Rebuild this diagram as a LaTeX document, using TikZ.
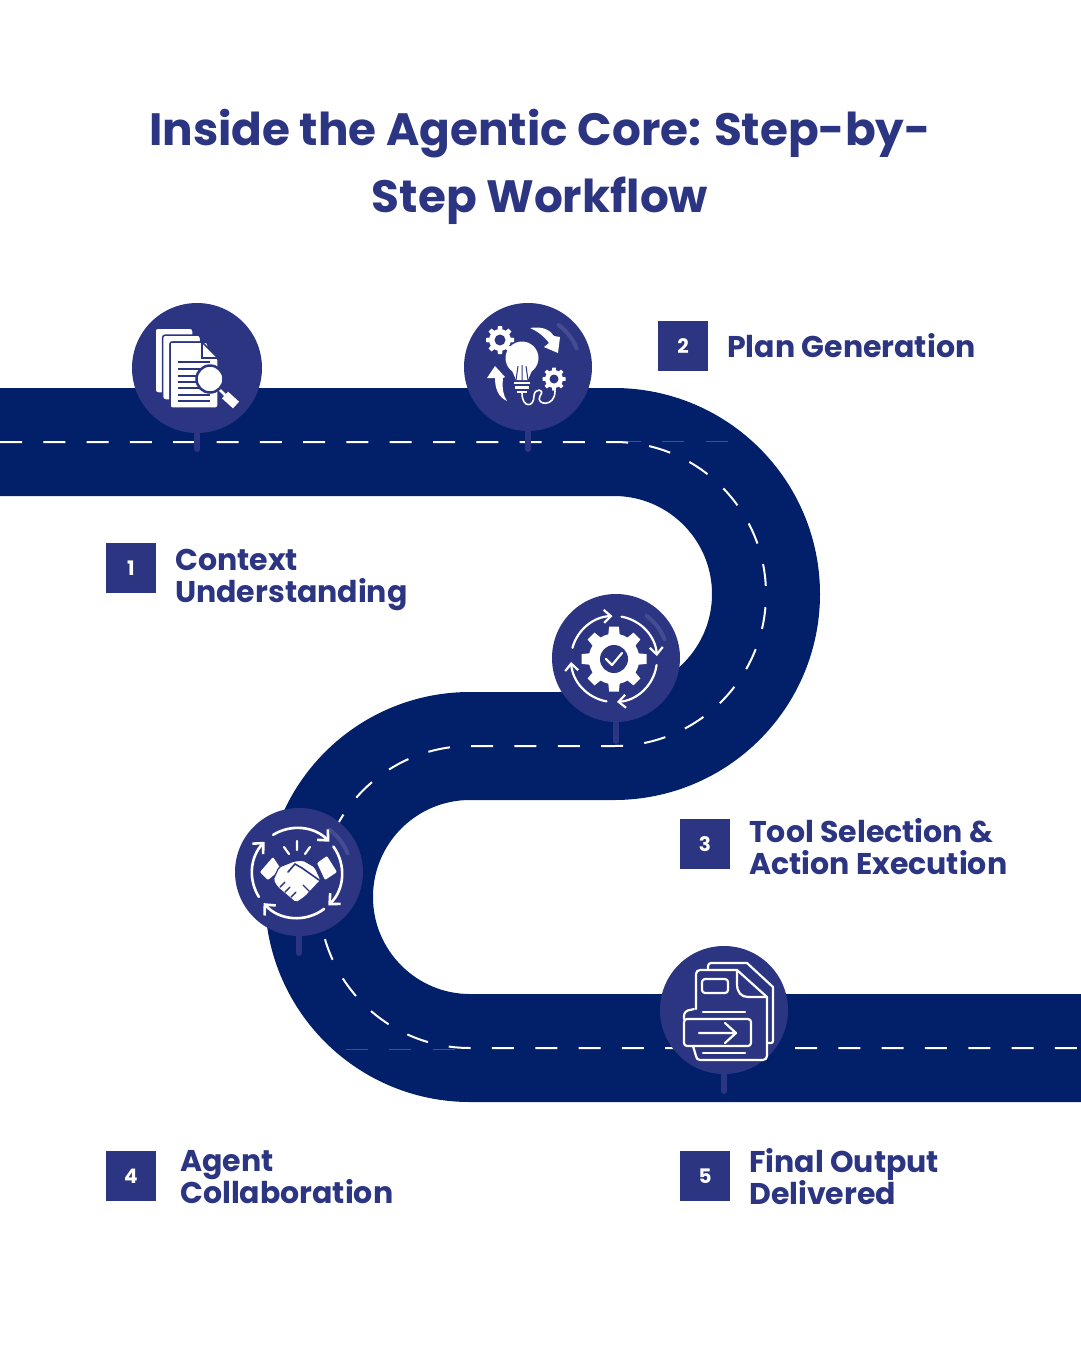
\documentclass[tikz,border=0pt]{standalone}
\usepackage{fontspec}
\setmainfont{Poppins}
\usetikzlibrary{arrows.meta, positioning, calc}
\definecolor{roadblue}{HTML}{02206A}
\definecolor{pinblue}{HTML}{2C3582}
\definecolor{glintblue}{HTML}{4A5296}
\definecolor{faintblue}{HTML}{3A5096}
\setlength{\lineskiplimit}{-100pt}
\setlength{\normallineskiplimit}{-100pt}

% gear: centre x, centre y, radius, teeth, hole radius
\newcommand{\gearicon}[5]{
  \fill[white] (#1,#2) circle[radius=#3*0.78pt];
  \foreach \a in {1,...,#4}
    \fill[white, rotate around={\a*360/#4:(#1,#2)}] ($(#1,#2)+(-#3*0.2,#3*0.5)$) -- ($(#1,#2)+(-#3*0.15,#3)$) -- ($(#1,#2)+(#3*0.15,#3)$) -- ($(#1,#2)+(#3*0.2,#3*0.5)$) -- cycle;
  \fill[pinblue] (#1,#2) circle[radius=#5 pt];
}
% glint on a pin: centre x, centre y
\newcommand{\pinglint}[2]{
  \draw[glintblue, line width=4pt, line cap=round, opacity=0.8] ($(#1,#2)+(54:52)$) arc[start angle=54, end angle=21, radius=52pt];
}

\begin{document}
\begin{tikzpicture}[x=1pt, y=1pt,
    road/.style={line width=108pt, roadblue},
    lanemark/.style={line width=2pt, white, dash pattern=on 22pt off 21.3pt},
    faintmark/.style={line width=0.7pt, faintblue, dash pattern=on 22pt off 21.3pt},
    pinhead/.style={circle, fill=pinblue, minimum size=128pt, inner sep=0pt},
    pinstem/.style={line width=6pt, pinblue, line cap=round},
    badge/.style={fill=pinblue, text=white, minimum size=50pt, inner sep=0pt, font=\fontsize{20}{20}\selectfont\bfseries},
    stepname/.style={text=pinblue, anchor=west, align=left, inner sep=0pt, font=\fontsize{30}{32}\selectfont\bfseries},
    iconline/.style={white, line width=2.2pt, line cap=round, line join=round},
    ringarrow/.style={iconline, -{Straight Barb[length=7pt, width=13pt, line width=2.2pt]}},
    shakearrow/.style={iconline, line width=2.6pt, -{Straight Barb[length=8pt, width=15pt, line width=2.6pt]}},
]
  \useasboundingbox (0,0) rectangle (1080,-1350);

  \node[text=pinblue, align=center, font=\fontsize{45.3}{67}\selectfont\bfseries] (title) at (540,-167) {Inside the Agentic Core: Step-by-\\Step Workflow};

  % road and lane marks
  \def\roadpath{(0,-442) -- (614,-442) arc[start angle=90, end angle=-90, radius=152pt] -- (470,-746) arc[start angle=90, end angle=270, radius=151pt] -- (1085,-1048)}
  \draw[road] \roadpath;
  \draw[faintmark] (619,-441.5) -- (728,-441.5);
  \draw[faintmark] (346,-1049) -- (460,-1049);
  \draw[lanemark] \roadpath;

  % pins
  \node[pinhead, minimum size=130pt] (pinone) at (197,-368) {};
  \node[pinhead] (pintwo) at (528,-367) {};
  \node[pinhead] (pinthree) at (616,-658) {};
  \node[pinhead] (pinfour) at (299,-872) {};
  \node[pinhead] (pinfive) at (724,-1010) {};
  \coordinate (endone) at (197,-449);
  \coordinate (endtwo) at (528,-449);
  \coordinate (endthree) at (616,-741);
  \coordinate (endfour) at (299,-953);
  \coordinate (endfive) at (724,-1091);
  \draw[pinstem] (pinone.south) -- (endone);
  \draw[pinstem] (pintwo.south) -- (endtwo);
  \draw[pinstem] (pinthree.south) -- (endthree);
  \draw[pinstem] (pinfour.south) -- (endfour);
  \draw[pinstem] (pinfive.south) -- (endfive);
  \pinglint{528}{-367}
  \pinglint{616}{-658}
  \pinglint{299}{-872}

  % documents and magnifier
  \foreach \px in {0,7.5,15}
    \fill[white, draw=pinblue, line width=1.5pt, rounded corners=3pt] (155+\px,-328-\px/1.07) rectangle ++(38,-65);
  \fill[white, draw=pinblue, line width=1.5pt, rounded corners=2pt] (170,-342) -- (202,-342) -- (218,-358) -- (218,-408) -- (170,-408) -- cycle;
  \draw[pinblue, line width=1.2pt] (202,-342) -- (202,-358) -- (218,-358);
  \foreach \ly in {362,369,376,382,388,395,401}
    \draw[pinblue, line width=1.6pt] (178,-\ly) -- (210,-\ly);
  \draw[white, line width=9pt] (225,-395) -- (236,-405);
  \draw[white, line width=2.5pt] (218,-388) -- (226,-396);
  \fill[white, draw=pinblue, line width=2.5pt] (210,-379) circle[radius=13.5pt];

  % bulb with gears and arrows
  \gearicon{500}{-340}{14}{8}{5.5}
  \gearicon{554}{-379}{11.5}{8}{4.5}
  \fill[white] (522,-358) circle[radius=16.5pt];
  \fill[white] (511,-368) -- (533,-368) -- (528,-380) -- (516,-380) -- cycle;
  \draw[pinblue, line width=1pt] (516,-380) -- (518,-366) (522,-380) -- (522,-365) (528,-380) -- (526,-366);
  \draw[white, line width=2.4pt] (514,-383) -- (530,-383) (515,-387.5) -- (529,-387.5) (517,-392) -- (527,-392);
  \draw[iconline, line width=1.6pt] (522,-393) .. controls (522,-408) and (534,-408) .. (534,-396) .. controls (534,-388) and (546,-388) .. (540,-396) .. controls (535,-405) and (555,-408) .. (555,-391);
  \fill[white] (530,-328) .. controls (543,-326) and (550,-330) .. (554,-336) -- (560,-337) -- (558,-353) -- (544,-347) -- (549,-343) .. controls (544,-336) and (537,-331) .. (530,-328) -- cycle;
  \fill[white] (507,-401) .. controls (498,-397) and (495,-388) .. (495,-378) -- (487,-378) -- (495,-366) -- (505,-377) -- (503,-378) .. controls (502,-388) and (503,-395) .. (507,-401) -- cycle;

  % gear with ring of arrows
  \gearicon{614}{-659}{32.5}{8}{14}
  \draw[iconline] (606,-659) -- (612,-665) -- (622,-653);
  \draw[ringarrow] ($(614,-659)+(165:43pt)$) arc[start angle=165, end angle=92, radius=43pt];
  \draw[ringarrow] ($(614,-659)+(80:43pt)$) arc[start angle=80, end angle=4, radius=43pt];
  \draw[ringarrow] ($(614,-659)+(-8:43pt)$) arc[start angle=-8, end angle=-86, radius=43pt];
  \draw[ringarrow] ($(614,-659)+(-100:43pt)$) arc[start angle=-100, end angle=-176, radius=43pt];

  % handshake with ring of arrows
  \draw[shakearrow] ($(297,-873)+(122:45pt)$) arc[start angle=122, end angle=44, radius=45pt];
  \draw[shakearrow] ($(297,-873)+(36:45pt)$) arc[start angle=36, end angle=-46, radius=45pt];
  \draw[shakearrow] ($(297,-873)+(-53:45pt)$) arc[start angle=-53, end angle=-138, radius=45pt];
  \draw[shakearrow] ($(297,-873)+(-148:45pt)$) arc[start angle=-148, end angle=-224, radius=45pt];
  \draw[iconline] (297,-841) -- (297,-850) (284,-847) -- (289,-854) (310,-847) -- (305,-854);
  \fill[white, rounded corners=1pt] (260,-872) -- (273,-857) -- (281,-869) -- (268,-880) -- cycle;
  \fill[white, rounded corners=1pt] (317,-863) -- (327,-856) -- (337,-872) -- (325,-880) -- cycle;
  \fill[white, draw=pinblue, line width=1.2pt, rounded corners=2pt] (279,-867) -- (294,-861) -- (303,-860) -- (315,-867) -- (321,-880) -- (305,-897) -- (296,-903) -- (277,-887) -- (273,-880) -- cycle;
  \draw[pinblue, line width=1.6pt, line cap=round] (288,-872) -- (295,-864) -- (302,-868) -- (319,-880);
  \draw[pinblue, line width=1.4pt, line cap=round] (280,-887) -- (285,-882) (285,-892) -- (290,-887) (291,-897) -- (296,-892) (303,-885) -- (310,-892);

  % files with arrow
  \draw[iconline] (708,-970) -- (708,-966) arc[start angle=180, end angle=90, radius=3pt] -- (747,-963) -- (773,-987) -- (773,-1041) arc[start angle=0, end angle=-90, radius=2pt] -- (767,-1043);
  \draw[iconline] (696,-1009) -- (696,-974) arc[start angle=180, end angle=90, radius=4pt] -- (737,-970) -- (767,-997) -- (767,-1056) arc[start angle=0, end angle=-90, radius=4pt] -- (700,-1060) arc[start angle=-90, end angle=-180, radius=4pt] -- (693,-1046);
  \draw[iconline] (737,-970) -- (737,-984) .. controls (737,-992) and (741,-997) .. (748,-997) -- (767,-997);
  \draw[iconline, rounded corners=3pt] (702,-979) rectangle (728,-993);
  \draw[iconline] (703,-1012) -- (745,-1012);
  \draw[iconline, fill=pinblue, rounded corners=3pt] (684,-1019) rectangle (751,-1046);
  \draw[iconline] (684,-1019) -- (684,-1016) arc[start angle=180, end angle=90, radius=6pt] -- (694,-1009);
  \draw[iconline] (699,-1033) -- (736,-1033) (725,-1023) -- (736,-1033) -- (725,-1043);
  \draw[iconline] (703,-1053) -- (745,-1053);

  % badges and step names
  \node[badge] (badgeone) at (131,-568) {1};
  \node[stepname] (nameone) at (175,-580) {Context\\Understanding};
  \node[badge] (badgetwo) at (683,-346) {2};
  \node[stepname] (nametwo) at (727,-346) {Plan Generation};
  \node[badge] (badgethree) at (705,-844) {3};
  \node[stepname] (namethree) at (749,-847) {Tool Selection \&\\Action Execution};
  \node[badge] (badgefour) at (131,-1176) {4};
  \node[stepname] (namefour) at (180,-1177) {Agent\\Collaboration};
  \node[badge] (badgefive) at (705,-1176) {5};
  \node[stepname] (namefive) at (749,-1177) {Final Output\\Delivered};
\end{tikzpicture}
\end{document}
